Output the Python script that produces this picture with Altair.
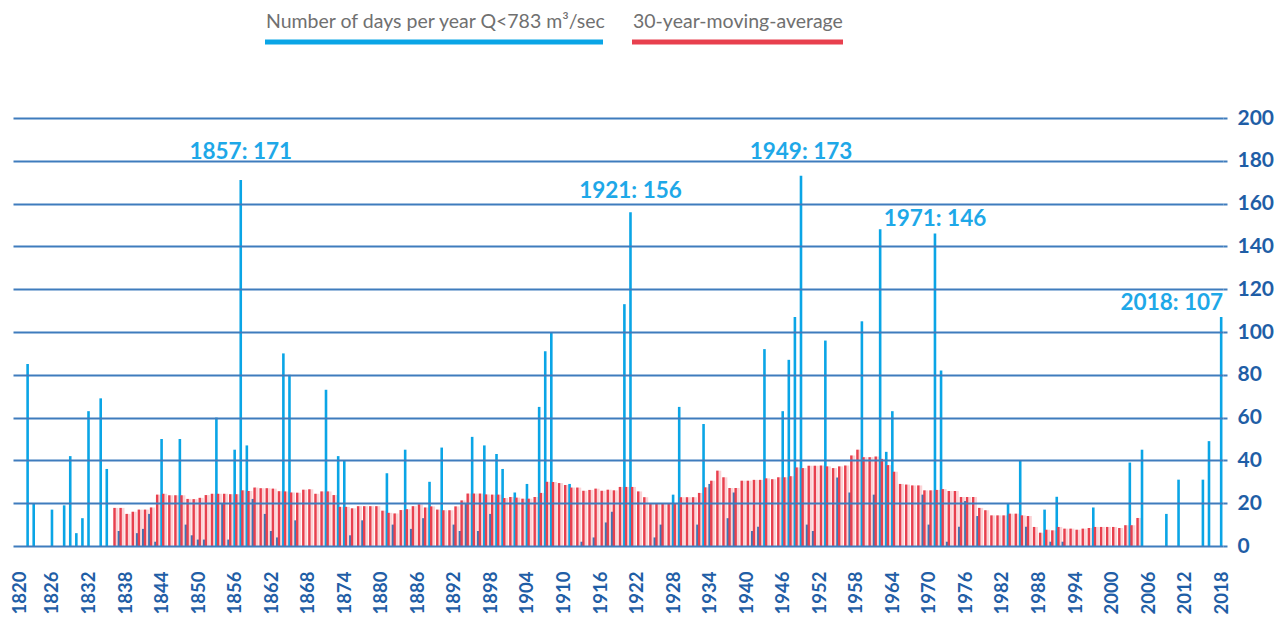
import altair as alt
import pandas as pd

# ---- data -------------------------------------------------------------------
blue_years = list(range(1820, 2019))
blue_days = [
    0, 0, 85, 20, 0, 0, 17, 0, 19, 42,          # 1820-1829
    6, 13, 63, 0, 69, 36, 0, 7, 0, 0,           # 1830-1839
    6, 8, 15, 2, 50, 0, 0, 50, 10, 5,           # 1840-1849
    3, 3, 0, 60, 20, 3, 45, 171, 47, 22,        # 1850-1859
    0, 15, 7, 4, 90, 80, 12, 0, 0, 0,           # 1860-1869
    0, 73, 0, 42, 40, 5, 0, 12, 0, 0,           # 1870-1879
    0, 34, 10, 0, 45, 8, 0, 13, 30, 0,          # 1880-1889
    46, 0, 10, 7, 20, 51, 7, 47, 15, 43,        # 1890-1899
    36, 0, 25, 0, 29, 0, 65, 91, 100, 0,        # 1900-1909
    0, 29, 0, 2, 0, 4, 0, 11, 16, 0,            # 1910-1919
    113, 156, 0, 0, 0, 4, 10, 0, 24, 65,        # 1920-1929
    0, 0, 10, 57, 29, 0, 0, 13, 25, 0,          # 1930-1939
    0, 7, 9, 92, 0, 0, 63, 87, 107, 173,        # 1940-1949
    10, 7, 0, 96, 0, 32, 0, 25, 0, 105,         # 1950-1959
    0, 24, 148, 44, 63, 0, 0, 0, 0, 24,         # 1960-1969
    10, 146, 82, 2, 0, 9, 21, 0, 14, 0,         # 1970-1979
    0, 0, 0, 20, 0, 40, 9, 0, 0, 17,            # 1980-1989
    2, 23, 2, 0, 0, 0, 0, 18, 0, 0,             # 1990-1999
    0, 0, 0, 39, 0, 45, 0, 0, 0, 15,            # 2000-2009
    0, 31, 0, 0, 0, 31, 49, 0, 107,             # 2010-2018
]

avg_years = list(range(1836, 2005))
avg_days = [
    17.8, 17.8, 15.0, 16.0,                                   # 1836-1839
    17.0, 17.0, 18.0, 24.0, 24.4, 23.7, 23.7, 23.7, 22.0, 21.9,  # 1840-1849
    22.5, 23.8, 24.4, 24.4, 24.4, 24.2, 24.2, 26.0, 25.7, 27.3,  # 1850-1859
    27.0, 27.0, 26.8, 25.6, 25.5, 25.0, 24.9, 26.3, 26.5, 24.4,  # 1860-1869
    25.5, 25.5, 23.8, 18.3, 18.3, 17.6, 18.6, 18.6, 18.6, 18.6,  # 1870-1879
    16.5, 15.5, 15.2, 16.8, 17.2, 18.6, 19.5, 18.0, 18.5, 17.0,  # 1880-1889
    16.7, 16.7, 18.5, 21.3, 24.5, 24.5, 24.5, 24.1, 24.0, 24.0,  # 1890-1899
    22.4, 22.9, 22.6, 22.1, 22.1, 22.9, 24.8, 30.0, 29.9, 29.4,  # 1900-1909
    28.5, 27.3, 27.3, 25.8, 26.2, 26.8, 25.8, 26.3, 26.0, 27.6,  # 1910-1919
    27.6, 27.6, 25.5, 22.8, 20.0, 20.0, 20.0, 20.0, 20.0, 22.8,  # 1920-1929
    22.8, 22.8, 24.8, 27.4, 30.5, 35.2, 32.1, 27.1, 27.1, 30.5,  # 1930-1939
    30.5, 30.9, 30.9, 31.6, 31.2, 32.1, 32.1, 32.6, 36.7, 36.4,  # 1940-1949
    37.5, 37.5, 37.6, 37.2, 36.4, 37.2, 37.6, 42.3, 45.0, 41.5,  # 1950-1959
    41.5, 41.8, 40.7, 37.8, 34.7, 29.0, 28.7, 28.3, 28.3, 26.0,  # 1960-1969
    26.0, 26.2, 26.6, 25.7, 25.7, 22.9, 22.9, 22.9, 17.8, 16.7,  # 1970-1979
    14.3, 14.3, 14.3, 15.1, 15.1, 14.3, 14.0, 8.9, 6.2, 7.6,     # 1980-1989
    7.3, 8.9, 8.1, 8.1, 7.6, 8.1, 8.4, 8.9, 8.9, 8.9,            # 1990-1999
    8.9, 8.4, 9.7, 9.7, 13.1,                                    # 2000-2004
]

peak_years = [1857, 1921, 1949, 1971, 2018]
peak_values = [171, 156, 173, 146, 107]

x_tick_years = list(range(1820, 2019, 6))
y_ticks = list(range(0, 201, 20))

legend_labels = ["Number of days per year Q<783 m³/sec", "30-year-moving-average"]

# ---- tables ------------------------------------------------------------------
days_df = pd.DataFrame({"year": blue_years, "days": blue_days})
avg_df = pd.DataFrame({"year": avg_years, "avg": avg_days})
data = days_df.merge(avg_df, on="year", how="left")
peaks = pd.DataFrame({"year": peak_years, "value": peak_values})

BLUE = "#0aa5e6"
DARK_BLUE = "#3b78b6"
RED = "#e8404e"
PINK = "#fbd3d6"
GRID = "#3f7cbd"
AXIS_TXT = "#1f5ea6"
ANN = "#1ea8e8"
FONT = "Lato"

# placement of each peak label above its bar (style, pixels)
ANN_STYLE = {
    1857: dict(dy=-16, align="center", dx=0),
    1921: dict(dy=-9, align="center", dx=0),
    1949: dict(dy=-12, align="center", dx=0),
    1971: dict(dy=-3, align="center", dx=0),
    2018: dict(dy=-2, align="right", dx=2),
}

xscale = alt.Scale(domain=[1819.6, 2018.3], nice=False, zero=False, padding=0)
yscale = alt.Scale(domain=[0, 200], nice=False, padding=0)

x_axis = alt.Axis(
    values=x_tick_years,
    format="d",
    labelAngle=270,
    labelFont=FONT,
    labelFontSize=18.5,
    labelFontWeight="bold",
    labelColor=AXIS_TXT,
    labelPadding=25,
    labelOffset={"condition": {"test": "datum.value === 1820", "value": 4}, "value": 0},
    labelOverlap=False,
    labelFlush=False,
    grid=False,
    domain=False,
    ticks=False,
    title=None,
)
y_axis = alt.Axis(
    orient="right",
    values=y_ticks,
    grid=True,
    gridColor=GRID,
    gridWidth=2,
    domain=False,
    ticks=True,
    tickColor=GRID,
    tickWidth=2,
    tickSize=4,
    labelFont=FONT,
    labelFontSize=21,
    labelFontWeight="bold",
    labelColor=AXIS_TXT,
    labelPadding=10,
    title=None,
    zindex=1,
)

base = alt.Chart(data)

pink = base.transform_filter("isValid(datum.avg)").transform_calculate(
    xp="datum.year + 0.5"
).mark_bar(size=5, color=PINK).encode(
    x=alt.X("xp:Q", scale=xscale, axis=x_axis),
    y=alt.Y("avg:Q", scale=yscale, axis=y_axis),
)

blue = base.transform_filter("datum.days > 0").mark_bar(size=2.6).encode(
    x=alt.X("year:Q", scale=xscale, axis=x_axis),
    y=alt.Y("days:Q", scale=yscale, axis=y_axis),
    color=alt.condition("datum.days < datum.avg", alt.value(DARK_BLUE), alt.value(BLUE)),
)

red = base.transform_filter("isValid(datum.avg)").transform_calculate(
    xr="datum.year + 0.27"
).mark_bar(size=2.4, color=RED).encode(
    x=alt.X("xr:Q", scale=xscale, axis=x_axis),
    y=alt.Y("avg:Q", scale=yscale, axis=y_axis),
)

ann_layers = []
for yr in peak_years:
    st = ANN_STYLE[yr]
    ann_layers.append(
        alt.Chart(peaks)
        .transform_filter(f"datum.year == {yr}")
        .transform_calculate(label="datum.year + ': ' + datum.value")
        .mark_text(
            font=FONT, fontSize=22.5, fontWeight="bold", color=ANN,
            baseline="bottom", align=st["align"], dx=st["dx"], dy=st["dy"],
        )
        .encode(
            x=alt.X("year:Q", scale=xscale, axis=x_axis),
            y=alt.Y("value:Q", scale=yscale, axis=y_axis),
            text="label:N",
        )
    )

leg_style = dict(font=FONT, fontSize=19.5, color="#707070", align="left", baseline="middle")

leg1_txt = alt.Chart(alt.Data(values=[{"t": legend_labels[0]}])).mark_text(**leg_style).encode(
    x=alt.value(253), y=alt.value(-96), text="t:N"
)
leg2_txt = alt.Chart(alt.Data(values=[{"t": legend_labels[1]}])).mark_text(**leg_style).encode(
    x=alt.value(620), y=alt.value(-96), text="t:N"
)
leg1_line = alt.Chart(alt.Data(values=[{"t": legend_labels[0]}])).mark_rule(
    color=BLUE, strokeWidth=5
).encode(x=alt.value(252), x2=alt.value(590), y=alt.value(-76))
leg2_line = alt.Chart(alt.Data(values=[{"t": legend_labels[1]}])).mark_rule(
    color=RED, strokeWidth=5
).encode(x=alt.value(619), x2=alt.value(830), y=alt.value(-76))

chart = alt.layer(
    pink, blue, red, *ann_layers, leg1_txt, leg2_txt, leg1_line, leg2_line
).properties(
    width=1210,
    height=428,
    background="white",
    autosize=alt.AutoSizeParams(type="none"),
    padding={"left": 5, "top": 110, "right": 56, "bottom": 70},
).configure_view(stroke=None)

chart.save("out.html", embed_options={"renderer": "svg", "actions": False})
